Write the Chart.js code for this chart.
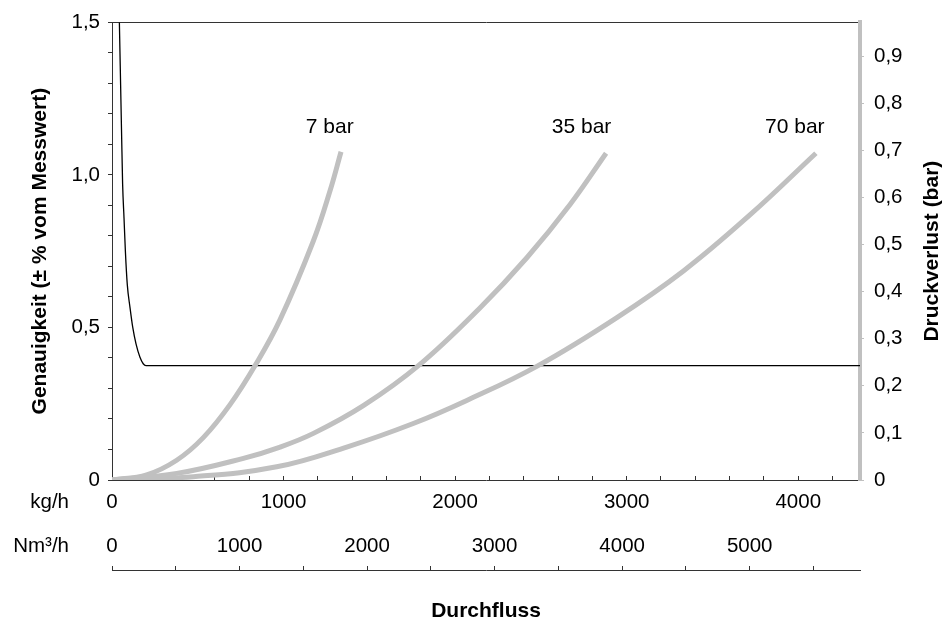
<!DOCTYPE html>
<html>
<head>
<meta charset="utf-8">
<script src="https://cdn.jsdelivr.net/npm/chart.js@4"></script>
<style>
  html, body { margin: 0; padding: 0; background: #fff; }
  #wrap { width: 947px; height: 621px; }
</style>
</head>
<body>
<div id="wrap"><canvas id="chart"></canvas></div>
<script>
// Genauigkeit (left axis) over Durchfluss in kg/h
const accFlow = [43, 58, 62, 70, 78, 89, 105, 121, 140, 163, 182, 198, 4360];
const accValue = [1.5, 1.076, 0.968, 0.859, 0.75, 0.641, 0.565, 0.5, 0.446, 0.402, 0.381, 0.375, 0.375];

// Druckverlust (right axis) over Durchfluss in kg/h, one curve per line pressure
const flow7 = [0, 202, 377, 532, 688, 834, 979, 1173, 1270, 1335];
const dp7 = [0, 0.011, 0.042, 0.090, 0.160, 0.243, 0.340, 0.507, 0.613, 0.697];
const flow35 = [0, 377, 766, 980, 1174, 1465, 1786, 2146, 2418, 2670, 2880];
const dp35 = [0, 0.014, 0.046, 0.070, 0.099, 0.158, 0.243, 0.366, 0.472, 0.585, 0.694];
const flow70 = [0, 474, 960, 1368, 1756, 2068, 2484, 2943, 3331, 3720, 4103];
const dp70 = [0, 0.007, 0.028, 0.070, 0.120, 0.169, 0.243, 0.345, 0.444, 0.5635, 0.694];

// curve names, placed in data units (kg/h, bar)
const curveNames = ['7 bar', '35 bar', '70 bar'];
const nameFlow = [1269, 2737, 3980];
const nameDp = [0.75, 0.75, 0.75];

// tick values
const kgTicks = [0, 200, 400, 600, 800, 1000, 1200, 1400, 1600, 1800, 2000, 2200,
  2400, 2600, 2800, 3000, 3200, 3400, 3600, 3800, 4000, 4200];
const nmLabelTicks = [0, 1000, 2000, 3000, 4000, 5000];
const nmMarkTicks = [0, 500, 1000, 1500, 2000, 2500, 3000, 3500, 4000, 4500, 5000, 5500];

const unitLabels = ['kg/h', 'Nm³/h'];
const kgMax = 4360;
const nmMax = 5865;
const dpMax = 0.972;

const FONT = '"Liberation Sans", Arial, sans-serif';
const TICK_SIZE = 20.5;
const TITLE_SIZE = 21;
const GREY = '#c0c0c0';
const AXIS = '#333333';

const toPoints = (xs, ys) => xs.map((x, i) => ({ x: x, y: ys[i] }));
const comma = (v, digits) => v === 0 ? '0' : v.toFixed(digits).replace('.', ',');
const fixedTicks = (values) => (scale) => { scale.ticks = values.map(v => ({ value: v })); };

const extraText = {
  id: 'extraText',
  afterDraw(chart) {
    const { ctx, scales } = chart;
    ctx.save();
    ctx.fillStyle = '#000';
    ctx.font = TITLE_SIZE + 'px ' + FONT;
    ctx.textAlign = 'center';
    ctx.textBaseline = 'middle';
    curveNames.forEach((name, i) => {
      ctx.fillText(name, scales.x.getPixelForValue(nameFlow[i]), scales.y2.getPixelForValue(nameDp[i]));
    });

    // unit names left of the two flow scales
    ctx.font = TICK_SIZE + 'px ' + FONT;
    ctx.textAlign = 'right';
    ctx.fillText(unitLabels[0], 69, scales.x.top + 22);
    ctx.fillText(unitLabels[1], 69, scales.x2.top + 20);

    // right axis title reads bottom to top like the left one
    ctx.font = 'bold ' + TITLE_SIZE + 'px ' + FONT;
    ctx.textAlign = 'center';
    ctx.translate(scales.y2.right - 15, (scales.y2.top + scales.y2.bottom) / 2);
    ctx.rotate(-Math.PI / 2);
    ctx.fillText('Druckverlust (bar)', 0, 0);
    ctx.restore();
  }
};

const ctx = document.getElementById('chart');

new Chart(ctx, {
  type: 'line',
  data: {
    datasets: [
      { label: '7 bar', data: toPoints(flow7, dp7), yAxisID: 'y2' },
      { label: '35 bar', data: toPoints(flow35, dp35), yAxisID: 'y2' },
      { label: '70 bar', data: toPoints(flow70, dp70), yAxisID: 'y2' },
      {
        label: 'Genauigkeit',
        data: toPoints(accFlow, accValue),
        yAxisID: 'y',
        borderColor: '#000',
        borderWidth: 1.3,
        cubicInterpolationMode: 'monotone'
      }
    ]
  },
  options: {
    animation: false,
    responsive: true,
    maintainAspectRatio: false,
    layout: { padding: { top: 20, left: 0, right: 0, bottom: 0 } },
    datasets: {
      line: {
        borderColor: GREY,
        borderWidth: 5,
        pointRadius: 0,
        fill: false,
        tension: 0.4
      }
    },
    plugins: {
      legend: { display: false },
      tooltip: { enabled: false }
    },
    scales: {
      x: {
        type: 'linear',
        position: 'bottom',
        weight: 0,
        min: 0,
        max: kgMax,
        grid: { drawOnChartArea: false, tickLength: -4, color: AXIS },
        border: { color: AXIS, width: 1 },
        ticks: {
          autoSkip: false,
          maxRotation: 0,
          padding: 14,
          color: '#000',
          font: { family: FONT, size: TICK_SIZE },
          callback: (v) => v % 1000 === 0 ? String(v) : ''
        },
        afterBuildTicks: fixedTicks(kgTicks),
        afterFit: (s) => { s.height = 46; }
      },
      x2: {
        type: 'linear',
        axis: 'x',
        position: 'bottom',
        weight: 1,
        min: 0,
        max: nmMax,
        grid: { display: false, drawTicks: false },
        border: { display: false },
        ticks: {
          autoSkip: false,
          maxRotation: 0,
          padding: 8,
          color: '#000',
          font: { family: FONT, size: TICK_SIZE },
          callback: (v) => String(v)
        },
        afterBuildTicks: fixedTicks(nmLabelTicks),
        afterFit: (s) => { s.height = 44; }
      },
      x3: {
        type: 'linear',
        axis: 'x',
        position: 'bottom',
        weight: 2,
        min: 0,
        max: nmMax,
        grid: { drawOnChartArea: false, tickLength: -4, color: AXIS },
        border: { color: AXIS, width: 1 },
        ticks: { display: false },
        afterBuildTicks: fixedTicks(nmMarkTicks),
        title: {
          display: true,
          text: 'Durchfluss',
          color: '#000',
          font: { family: FONT, size: TITLE_SIZE, weight: 'bold' },
          padding: { top: 0, bottom: -2.5 }
        },
        afterFit: (s) => { s.height = 51; }
      },
      xTop: {
        type: 'linear',
        axis: 'x',
        position: 'top',
        min: 0,
        max: kgMax,
        grid: { display: false },
        border: { color: AXIS, width: 1 },
        ticks: { display: false },
        afterFit: (s) => { s.height = 0; }
      },
      y: {
        type: 'linear',
        position: 'left',
        min: 0,
        max: 1.5,
        grid: { drawOnChartArea: false, tickLength: 4, color: AXIS },
        border: { color: AXIS, width: 1 },
        ticks: {
          stepSize: 0.1,
          autoSkip: false,
          includeBounds: false,
          padding: 8,
          color: '#000',
          font: { family: FONT, size: TICK_SIZE },
          callback: (v) => Math.abs(v * 2 - Math.round(v * 2)) < 1e-6 ? comma(v, 1) : ''
        },
        title: {
          display: true,
          text: 'Genauigkeit (± % vom Messwert)',
          color: '#000',
          font: { family: FONT, size: TITLE_SIZE, weight: 'bold' },
          padding: { top: 28, bottom: 0 }
        },
        afterFit: (s) => { s.width = 112; }
      },
      y2: {
        type: 'linear',
        position: 'right',
        min: 0,
        max: dpMax,
        grid: { drawOnChartArea: false, tickLength: 4, color: GREY },
        border: { color: GREY, width: 4 },
        ticks: {
          stepSize: 0.1,
          autoSkip: false,
          includeBounds: false,
          padding: 10,
          color: '#000',
          font: { family: FONT, size: TICK_SIZE },
          callback: (v) => comma(v, 1)
        },
        afterFit: (s) => { s.width = 87; }
      }
    }
  },
  plugins: [extraText]
});
</script>
</body>
</html>
